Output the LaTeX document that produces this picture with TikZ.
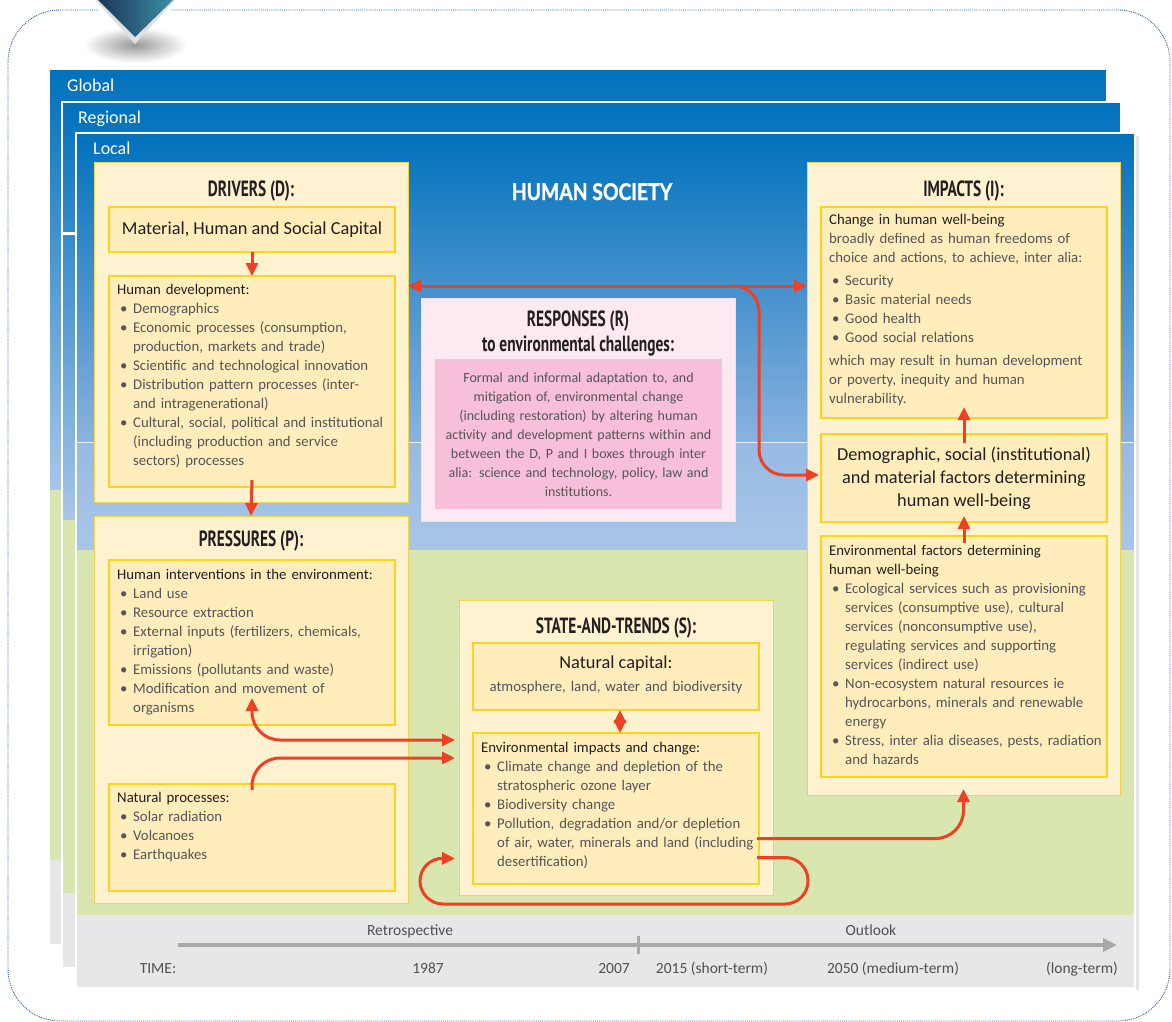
\documentclass[tikz,border=0pt]{standalone}
\usepackage{fontspec}
\setmainfont{Carlito}
\newfontfamily\headfont[FakeStretch=0.7]{PT Sans}
\newfontfamily\socfont[FakeStretch=0.84,FakeBold=1.2]{Lato}
\usetikzlibrary{arrows.meta,positioning,calc}
\definecolor{ink}{HTML}{231F20}
\definecolor{body}{HTML}{555558}
\definecolor{timeink}{HTML}{505052}
\definecolor{skytop}{HTML}{0071BC}
\definecolor{skymid}{HTML}{8AB2DF}
\definecolor{skypale}{HTML}{97BAE3}
\definecolor{skylow}{HTML}{A8C6E8}
\definecolor{meadow}{HTML}{D9E6AF}
\definecolor{haze}{HTML}{E6E7E8}
\definecolor{cream}{HTML}{FFF2D1}
\definecolor{butter}{HTML}{FFEDBC}
\definecolor{gold}{HTML}{FFD31C}
\definecolor{boxline}{HTML}{F3D44A}
\definecolor{blush}{HTML}{FCE9F2}
\definecolor{rose}{HTML}{F7BFD9}
\definecolor{arrowred}{HTML}{EE4123}
\definecolor{axisgrey}{HTML}{A7A9AC}
\definecolor{framedot}{HTML}{2E5D9F}
\definecolor{trinavy}{HTML}{1C3559}
\definecolor{triteal}{HTML}{3C8EA5}
\newcommand\itm{\par\hangindent=16pt\hangafter=1\noindent\hbox to 16pt{\hskip3pt\textbullet\hfil}}
\newcommand\subt[1]{{\color{ink}#1}}

\begin{document}
\begin{tikzpicture}[x=1pt,y=-1pt,
  panel/.style={draw=white,line width=1.2pt},
  outerbox/.style={draw=boxline,line width=0.8pt,fill=cream,anchor=north west,inner sep=0pt,outer sep=0pt},
  innerbox/.style={draw=gold,line width=1.6pt,fill=butter,anchor=north west,inner sep=0pt,outer sep=0pt},
  boxtitle/.style={font=\headfont\bfseries\fontsize{22}{25}\selectfont,text=ink,inner sep=0pt,anchor=base},
  bodytext/.style={font=\fontsize{14.8}{19}\selectfont,text=body,align=left,anchor=north west,inner sep=0pt,text width=#1},
  bodytext/.default=300pt,
  bigtext/.style={font=\fontsize{18.3}{23}\selectfont,text=ink,align=center,inner sep=0pt},
  layerlabel/.style={font=\fontsize{18}{20}\selectfont,text=white,anchor=base west,inner sep=0pt},
  timelabel/.style={font=\fontsize{15.5}{17}\selectfont,text=timeink,anchor=base,inner sep=0pt},
  redarrow/.style={draw=arrowred,line width=3pt,>={Triangle[length=13pt,width=12pt]},->},
  timeaxis/.style={draw=axisgrey,line width=4pt,-{Triangle[length=14pt,width=13pt]}}]
  \useasboundingbox (0,0) rectangle (1172,1022);

  % dotted frame and the marker on top
  \draw[framedot,densely dotted,line width=0.9pt,rounded corners=52] (8,10) rectangle (1170,1021);
  \fill[white] (90,0) -- (180,0) -- (135,50) -- cycle;
  \shade[inner color=black!40,outer color=white] (135,45) ellipse [x radius=52,y radius=18];
  \fill[black!12] (95,0) -- (175,0) -- (135,44) -- cycle;
  \shade[left color=trinavy,right color=triteal] (98,0) -- (173,0) -- (135,37) -- cycle;

  % global layer
  \fill[top color=skytop,bottom color=skylow] (49,69) rectangle (1107,490);
  \fill[meadow] (49,490) rectangle (1107,860);
  \fill[haze] (49,860) rectangle (1107,945);
  \draw[panel] (49,69) rectangle (1107,945);
  \node[layerlabel] (global) at (67,92) {Global};

  % regional layer
  \fill[top color=skytop,bottom color=skylow] (62,102) rectangle (1121,520);
  \draw[white,line width=3pt] (62,233) -- (76,233);
  \fill[meadow] (62,520) rectangle (1121,893);
  \fill[haze] (62,893) rectangle (1121,968);
  \draw[panel] (62,102) rectangle (1121,968);
  \node[layerlabel] (regional) at (78,124) {Regional};

  % local layer
  \fill[black!10] (1136,136) rectangle (1139,990);
  \fill[top color=skytop,bottom color=skymid] (76,133) rectangle (1135,442);
  \fill[top color=skypale,bottom color=skylow] (76,442) rectangle (1135,550);
  \draw[white!80!skymid,line width=0.8pt] (76,442) -- (1135,442);
  \fill[meadow] (76,550) rectangle (1135,915);
  \fill[haze] (76,915) rectangle (1135,988);
  \draw[panel] (76,133) rectangle (1135,988);
  \node[layerlabel] (local) at (93,154) {Local};

  \node[font=\socfont\bfseries\fontsize{23}{26}\selectfont,text=white,anchor=base,inner sep=0pt] (society) at (592,200) {HUMAN SOCIETY};

  % drivers
  \node[outerbox,minimum width=314,minimum height=340] (drivers) at (94,162) {};
  \node[boxtitle] (drvtitle) at ($(drivers.north)+(0,34)$) {DRIVERS (D):};
  \node[innerbox,minimum width=286,minimum height=45] (matcap) at (109,207) {};
  \node[bigtext] (matcaptxt) at (matcap.center) {Material, Human and Social Capital};
  \node[innerbox,minimum width=286,minimum height=211] (hdev) at (109,276) {};
  \node[bodytext] (hdevtxt) at ([shift={(8,8)}]hdev.north west) {\subt{Human development:}\itm Demographics\itm Economic processes (consumption,\newline production, markets and trade)\itm Scientific and technological innovation\itm Distribution pattern processes (inter-\newline and intragenerational)\itm Cultural, social, political and institutional\newline (including production and service\newline sectors) processes\par};

  % pressures
  \node[outerbox,minimum width=314,minimum height=387] (pressures) at (94,516) {};
  \node[boxtitle] (prstitle) at ($(pressures.north)+(0,30)$) {PRESSURES (P):};
  \node[innerbox,minimum width=286,minimum height=165] (hint) at (109,560) {};
  \node[bodytext] (hinttxt) at ([shift={(8,9)}]hint.north west) {\subt{Human interventions in the environment:}\itm Land use\itm Resource extraction\itm External inputs (fertilizers, chemicals,\newline irrigation)\itm Emissions (pollutants and waste)\itm Modification and movement of\newline organisms\par};
  \node[innerbox,minimum width=286,minimum height=107] (natp) at (109,784) {};
  \node[bodytext] (natptxt) at ([shift={(8,8)}]natp.north west) {\subt{Natural processes:}\itm Solar radiation\itm Volcanoes\itm Earthquakes\par};

  % responses
  \node[outerbox,draw=blush!70!rose,fill=blush,minimum width=314,minimum height=223] (rsp) at (421,298) {};
  \node[boxtitle] (rsptitle) at ($(rsp.north)+(0,28)$) {RESPONSES (R)};
  \node[boxtitle] (rspsub) at ($(rsp.north)+(0,53)$) {to environmental challenges:};
  \node[outerbox,draw=none,fill=rose,minimum width=287,minimum height=150] (rspin) at (435,359) {};
  \node[bodytext=290pt,align=center,anchor=center,font=\fontsize{14}{19}\selectfont] (rsptxt) at ($(rspin.center)+(0,1)$) {Formal and informal adaptation to, and\\ mitigation of, environmental change\\ (including restoration) by altering human\\ activity and development patterns within and\\ between the D, P and I boxes through inter\\ alia: science and technology, policy, law and\\ institutions.};

  % state-and-trends
  \node[outerbox,minimum width=314,minimum height=295] (stt) at (459,600) {};
  \node[boxtitle] (stttitle) at ($(stt.north)+(0,33)$) {STATE-AND-TRENDS (S):};
  \node[innerbox,minimum width=286,minimum height=67] (natcap) at (473,643) {};
  \node[bigtext] (natcaptxt) at ($(natcap.north)+(0,21)$) {Natural capital:};
  \node[bodytext=286pt,align=center,anchor=center] (natcapsub) at ($(natcap.north)+(0,45)$) {atmosphere, land, water and biodiversity};
  \node[innerbox,minimum width=286,minimum height=151] (envimp) at (473,733) {};
  \node[bodytext] (envimptxt) at ([shift={(8,9)}]envimp.north west) {\subt{Environmental impacts and change:}\itm Climate change and depletion of the\newline stratospheric ozone layer\itm Biodiversity change\itm Pollution, degradation and/or depletion\newline of air, water, minerals and land (including\newline desertification)\par};

  % impacts
  \node[outerbox,minimum width=313,minimum height=633] (impacts) at (807,162) {};
  \node[boxtitle] (imptitle) at ($(impacts.north)+(0,34)$) {IMPACTS (I):};
  \node[innerbox,minimum width=286,minimum height=211] (chg) at (821,207) {};
  \node[bodytext] (chgtxt) at ([shift={(8,7)}]chg.north west) {\subt{Change in human well-being}\newline broadly defined as human freedoms of\newline choice and actions, to achieve, inter alia:\par\vspace{4pt}\itm Security\itm Basic material needs\itm Good health\itm Good social relations\par\vspace{4pt}\noindent which may result in human development\newline or poverty, inequity and human\newline vulnerability.\par};
  \node[innerbox,minimum width=286,minimum height=88] (demog) at (821,434) {};
  \node[bigtext] (demogtxt) at (demog.center) {Demographic, social (institutional)\\ and material factors determining\\ human well-being};
  \node[innerbox,minimum width=286,minimum height=241] (envf) at (821,536) {};
  \node[bodytext] (envftxt) at ([shift={(8,9)}]envf.north west) {\subt{Environmental factors determining\newline human well-being}\itm Ecological services such as provisioning\newline services (consumptive use), cultural\newline services (nonconsumptive use),\newline regulating services and supporting\newline services (indirect use)\itm Non-ecosystem natural resources ie\newline hydrocarbons, minerals and renewable\newline energy\itm Stress, inter alia diseases, pests, radiation\newline and hazards\par};

  % time bar
  \coordinate (tstart) at (178,945);
  \coordinate (tend) at (1117,945);
  \coordinate (tnow) at (638,945);
  \draw[timeaxis] (tstart) -- (tend);
  \draw[axisgrey,line width=3pt] ($(tnow)+(0,-9)$) -- ($(tnow)+(0,9)$);
  \node[timelabel] (retro) at (410,935) {Retrospective};
  \node[timelabel] (outlook) at (871,935) {Outlook};
  \node[timelabel] (time) at (158,973) {TIME:};
  \node[timelabel] (y1987) at (428,973) {1987};
  \node[timelabel] (y2007) at (614,973) {2007};
  \node[timelabel] (y2015) at (712,973) {2015 (short-term)};
  \node[timelabel] (y2050) at (893,973) {2050 (medium-term)};
  \node[timelabel] (ylong) at (1082,973) {(long-term)};

  % connectors
  \coordinate (hline) at (0,286);
  \draw[redarrow] (matcap.south) -- (hdev.north);
  \draw[redarrow] ($(hdev.south)+(0,-7)$) -- (pressures.north);
  \draw[redarrow,<->] (drivers.east |- hline) -- (impacts.west |- hline);
  \draw[redarrow,rounded corners=25] ($(rsp.east |- hline)+(-2,0)$) -| ([xshift=24pt]rsp.east) |- ($(demog.west)+(-2,-3)$);
  \draw[redarrow,<->] ($(natcap.south)+(4,0)$) -- ($(envimp.north)+(4,0)$);
  \draw[redarrow,<->,rounded corners=28] ($(hint.south)+(0,-27)$) |- ($(envimp.north west)+(-18,7)$);
  \draw[redarrow,rounded corners=28] ($(natp.north)+(0,6)$) |- ($(envimp.north west)+(-18,25)$);
  \draw[redarrow,rounded corners=28] ($(envimp.east)+(-2,30)$) -| ($(impacts.south)+(0,-6)$);
  \draw[redarrow,rounded corners=23] ($(envimp.east)+(-2,49)$) -| ($(stt.south east)+(35,9)$) -| ($(stt.south west)+(-39,-37)$) -- ($(envimp.west)+(-18,50)$);
  \draw[redarrow] ($(demog.north)+(0,9)$) -- ($(chg.south)+(0,-11)$);
  \draw[redarrow] ($(envf.north)+(0,7)$) -- ($(demog.south)+(0,-6)$);
\end{tikzpicture}
\end{document}
